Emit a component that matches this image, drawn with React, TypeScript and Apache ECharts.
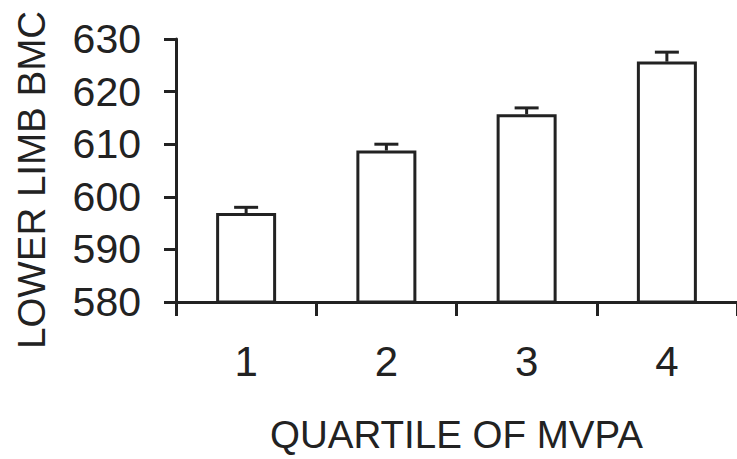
import React, { useEffect, useRef } from "react";
import * as echarts from "echarts";

const categories = ["1", "2", "3", "4"];
const means = [596.9, 608.8, 615.7, 625.7];
const errors = [1.1, 1.2, 1.2, 1.8];
const yMin = 580;
const yMax = 630;
const yInterval = 10;

const INK = "#222";
const FONT = "'Liberation Sans', Arial, sans-serif";

export default function App() {
  const ref = useRef<HTMLDivElement>(null);
  useEffect(() => {
    if (!ref.current) return;
    const chart = echarts.init(ref.current, undefined, { renderer: "svg" });
    const errData = categories.map((c, i) => [i, means[i], errors[i]]);
    chart.setOption({
      animation: false,
      backgroundColor: "#fff",
      grid: { left: 176, right: -4, top: 39, bottom: 156 },
      xAxis: {
        type: "category",
        data: categories,
        boundaryGap: true,
        name: "QUARTILE OF MVPA",
        nameLocation: "middle",
        nameGap: 113,
        nameTextStyle: { fontSize: 38.5, fontFamily: FONT, color: INK, verticalAlign: "top" },
        axisLine: { show: true, lineStyle: { color: INK, width: 3 } },
        axisTick: { show: true, length: 14, lineStyle: { color: INK, width: 3 }, alignWithLabel: false },
        axisLabel: { fontSize: 42, fontFamily: FONT, color: INK, margin: 38 },
        splitLine: { show: false },
      },
      yAxis: {
        type: "value",
        min: yMin,
        max: yMax,
        interval: yInterval,
        axisLine: { show: true, lineStyle: { color: INK, width: 3 } },
        axisTick: { show: true, length: 12, lineStyle: { color: INK, width: 3 } },
        axisLabel: { fontSize: 41, fontFamily: FONT, color: INK, margin: 35 },
        splitLine: { show: false },
      },
      graphic: [
        {
          type: "text",
          x: 31,
          y: 180,
          rotation: Math.PI / 2,
          style: {
            text: "LOWER LIMB BMC",
            fontSize: 38.5,
            fontFamily: FONT,
            fill: INK,
            align: "center",
            verticalAlign: "middle",
            textAlign: "center",
            textVerticalAlign: "middle",
          },
        },
      ],
      series: [
        {
          type: "bar",
          data: means,
          barWidth: 60,
          itemStyle: { color: "#fff", borderColor: INK, borderWidth: 3 },
          z: 2,
        },
        {
          type: "custom",
          data: errData,
          z: 3,
          renderItem: (params: any, api: any) => {
            const idx = api.value(0);
            const m = api.value(1);
            const e = api.value(2);
            const base = api.coord([idx, m]);
            const top = api.coord([idx, m + e]);
            const half = 12;
            return {
              type: "group",
              children: [
                {
                  type: "line",
                  shape: { x1: base[0], y1: base[1], x2: top[0], y2: top[1] },
                  style: { stroke: INK, lineWidth: 3 },
                },
                {
                  type: "line",
                  shape: { x1: top[0] - half, y1: top[1], x2: top[0] + half, y2: top[1] },
                  style: { stroke: INK, lineWidth: 3 },
                },
              ],
            };
          },
        },
      ],
    });
    return () => chart.dispose();
  }, []);
  return (
    <div
      ref={ref}
      style={{ position: "fixed", left: 0, top: 0, width: 737, height: 459, background: "#fff" }}
    />
  );
}
